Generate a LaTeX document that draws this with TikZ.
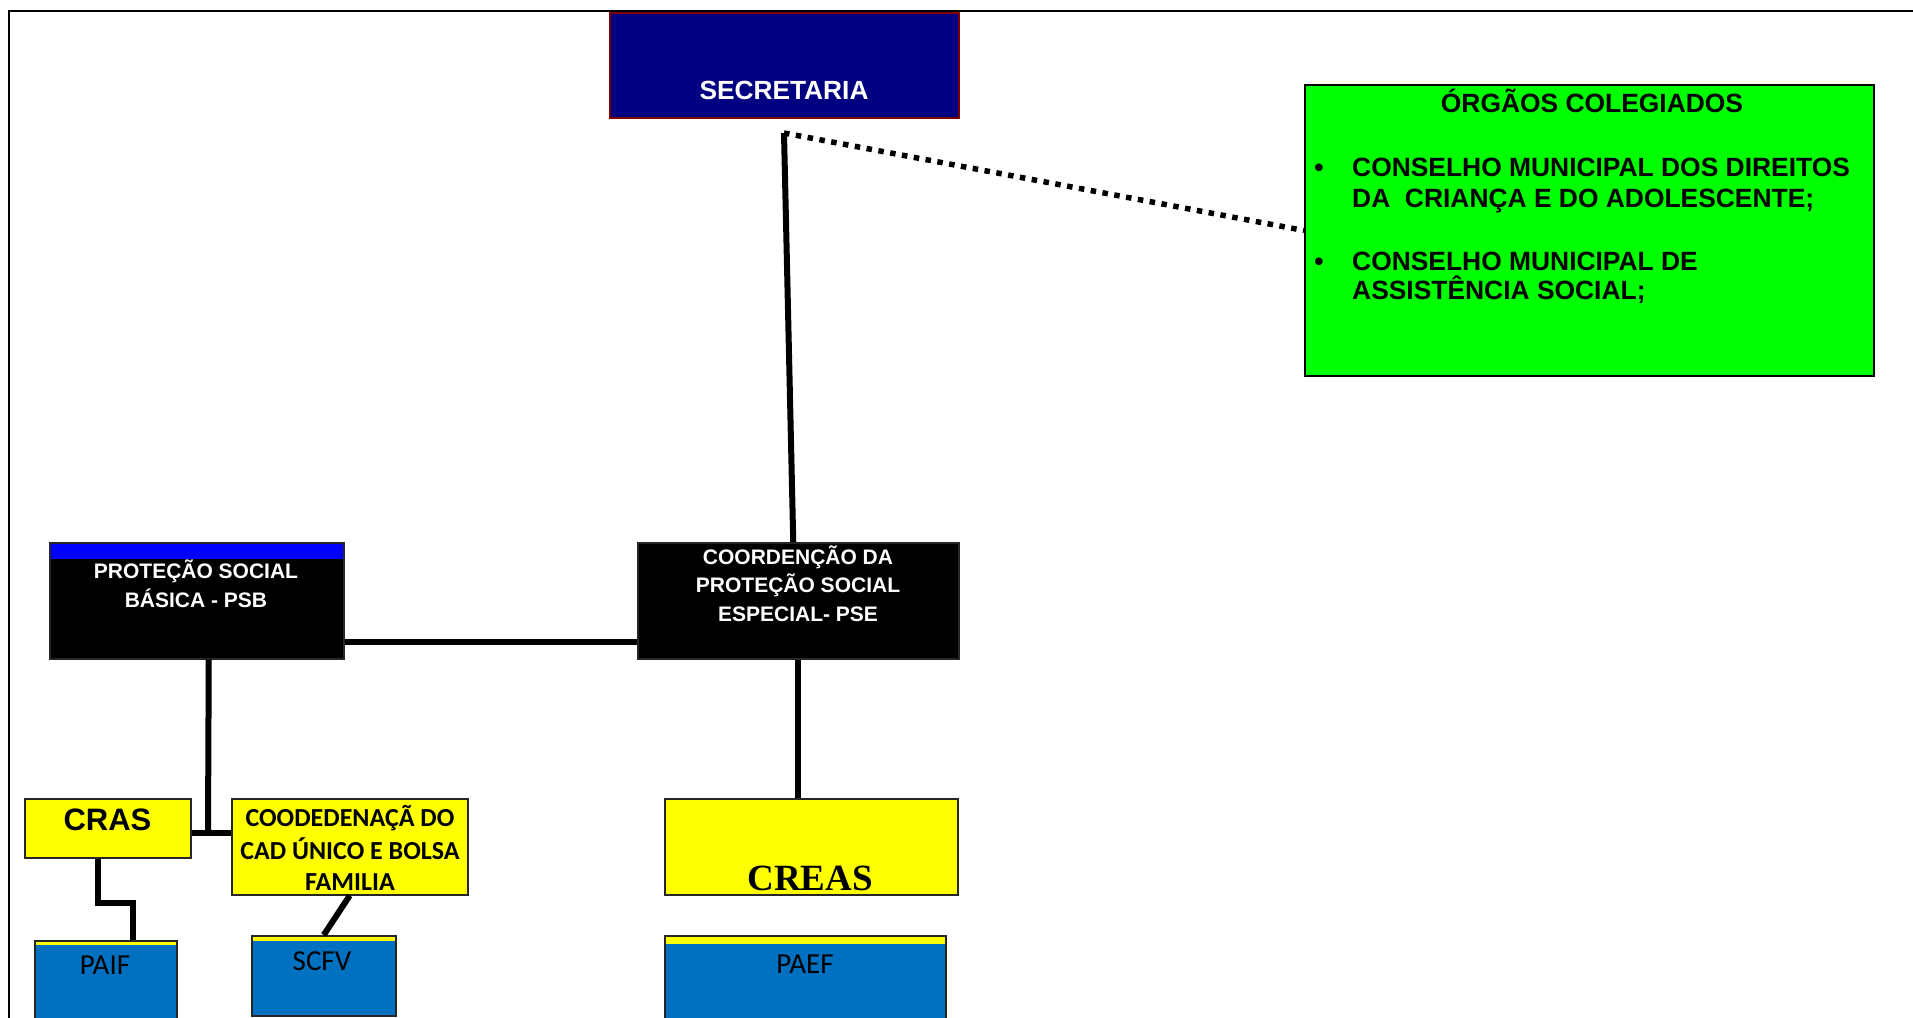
\documentclass[tikz,border=0pt]{standalone}
\usepackage{fontspec}
\newfontfamily\arialf{Liberation Sans}
\newfontfamily\calibf{Carlito}
\newfontfamily\timesf{Liberation Serif}
\usetikzlibrary{calc}
\definecolor{navyb}{RGB}{0,0,128}
\definecolor{darkredb}{RGB}{128,0,0}
\definecolor{greenb}{RGB}{0,255,0}
\definecolor{yellowb}{RGB}{255,255,0}
\definecolor{blueb}{RGB}{0,112,192}
\definecolor{stripblue}{RGB}{0,0,255}
\tikzset{
  box/.style={draw=black!85, line width=1.5pt, inner sep=0pt, anchor=north west},
  conn/.style={draw=black, line width=6pt},
  dotconn/.style={draw=black, line width=5.5pt, dash pattern=on 5.5pt off 6.5pt},
  txt/.style={inner sep=0pt, anchor=base},
  txtl/.style={inner sep=0pt, anchor=base west},
  topstrip/.style 2 args={path picture={\fill[#1] (path picture bounding box.north west) rectangle ([yshift=-#2]path picture bounding box.north east);}},
  secfont/.style={font=\arialf\bfseries\fontsize{26.3}{31}\selectfont, text=white},
  grfont/.style={font=\arialf\bfseries\fontsize{26.4}{31}\selectfont, text=black},
  psfont/.style={font=\arialf\bfseries\fontsize{21}{28}\selectfont, text=white},
  crasfont/.style={font=\arialf\bfseries\fontsize{31}{36}\selectfont, text=black},
  cadfont/.style={font=\calibf\bfseries\fontsize{26}{31}\selectfont, text=black},
  progfont/.style={font=\calibf\fontsize{29}{34}\selectfont, text=black},
  creasfont/.style={font=\timesf\bfseries\fontsize{37}{42}\selectfont, text=black}
}
\begin{document}
\begin{tikzpicture}[x=1pt,y=-1pt]
\useasboundingbox (0,0) rectangle (1913,1017);
\clip (0,0) rectangle (1913,1017);
\fill[white] (0,0) rectangle (1913,1017);
% outer frame
\draw[line width=2pt] (9,1100) -- (9,11) -- (2000,11);

% boxes
\node[box, draw=darkredb, line width=2pt, fill=navyb, minimum width=349pt, minimum height=105pt] (sec) at (609,12) {};
\node[box, draw=black, line width=2pt, fill=greenb, minimum width=569pt, minimum height=291pt] (org) at (1304,84) {};
\node[box, fill=black, topstrip={stripblue}{16pt}, minimum width=294pt, minimum height=116pt] (psb) at (49,542) {};
\node[box, fill=black, minimum width=321pt, minimum height=116pt] (pse) at (637,542) {};
\node[box, fill=yellowb, minimum width=166pt, minimum height=59pt] (cras) at (24,798) {};
\node[box, fill=yellowb, minimum width=236pt, minimum height=96pt] (cad) at (231,798) {};
\node[box, fill=yellowb, minimum width=293pt, minimum height=96pt] (creas) at (664,798) {};
\node[box, fill=blueb, topstrip={yellowb}{4.5pt}, minimum width=142pt, minimum height=110pt] (paif) at (34,940) {};
\node[box, fill=blueb, topstrip={yellowb}{5pt}, minimum width=144pt, minimum height=80pt] (scfv) at (251,935) {};
\node[box, fill=blueb, topstrip={yellowb}{8pt}, minimum width=281pt, minimum height=110pt] (paef) at (664,935) {};

% texts
\node[txt, secfont] (tsec) at (784,99) {SECRETARIA};
\node[txt, grfont] (torg) at (1592,112) {ÓRGÃOS COLEGIADOS};
\node[txt, grfont] (b1) at (1319,176) {•};
\node[txtl, grfont] (i1a) at (1352,176) {CONSELHO MUNICIPAL DOS DIREITOS};
\node[txtl, grfont] (i1b) at (1352,207) {DA\ \ CRIANÇA E DO ADOLESCENTE;};
\node[txt, grfont] (b2) at (1319,270) {•};
\node[txtl, grfont] (i2a) at (1352,270) {CONSELHO MUNICIPAL DE};
\node[txtl, grfont] (i2b) at (1352,299) {ASSISTÊNCIA SOCIAL;};
\node[txt, psfont] (tpsb1) at (196,578) {PROTEÇÃO SOCIAL};
\node[txt, psfont] (tpsb2) at (196,607) {BÁSICA - PSB};
\node[txt, psfont] (tpse1) at (798,564) {COORDENÇÃO DA};
\node[txt, psfont] (tpse2) at (798,592) {PROTEÇÃO SOCIAL};
\node[txt, psfont] (tpse3) at (798,621) {ESPECIAL- PSE};
\node[txt, crasfont] (tcras) at (107.5,830) {CRAS};
\node[txt, cadfont] (tcad1) at (350,826) {COODEDENAÇÃ DO};
\node[txt, cadfont] (tcad2) at (350,859) {CAD ÚNICO E BOLSA};
\node[txt, cadfont] (tcad3) at (350,890) {FAMILIA};
\node[txt, creasfont] (tcreas) at (810,890) {CREAS};
\node[txt, progfont] (tpaif) at (105,974) {PAIF};
\node[txt, progfont] (tscfv) at (322,970) {SCFV};
\node[txt, progfont] (tpaef) at (805,973) {PAEF};

% connectors
\coordinate (secjoin) at (784,133);
\coordinate (hcon) at (208,833);
\draw[dotconn] (secjoin) -- (org.west);
\draw[conn] (secjoin) -- ([xshift=-5pt]pse.north);
\draw[conn] ([yshift=-41pt]psb.east) -- ([yshift=-41pt]pse.west);
\draw[conn] ([xshift=12pt]psb.south) -- (hcon);
\draw[conn] (cras.east |- hcon) -- (cad.west |- hcon);
\draw[conn] ([xshift=-10pt]cras.south) -- ++(0,44) -| ([xshift=27pt]paif.north);
\draw[conn] (cad.south) -- (scfv.north);
\draw[conn] (pse.south) -- (pse.south |- creas.north);
\end{tikzpicture}
\end{document}
